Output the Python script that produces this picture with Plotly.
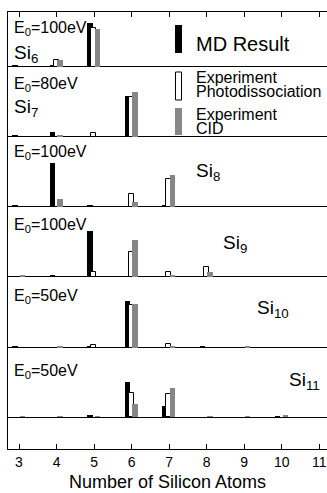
import plotly.graph_objects as go
from plotly.subplots import make_subplots

# ---------------- data (relative fragment intensities, arb. units) ----------------
atoms = [3, 4, 5, 6, 7, 8, 9, 10, 11]
tick_labels = ["3", "4", "5", "6", "7", "8", "9", "10", "11"]
clusters = ["Si<sub>6</sub>", "Si<sub>7</sub>", "Si<sub>8</sub>",
            "Si<sub>9</sub>", "Si<sub>10</sub>", "Si<sub>11</sub>"]
energies = ["E<sub>0</sub>=100eV", "E<sub>0</sub>=80eV", "E<sub>0</sub>=100eV",
            "E<sub>0</sub>=100eV", "E<sub>0</sub>=50eV", "E<sub>0</sub>=50eV"]

#              3     4     5     6     7     8     9     10    11
md_si6    = [1,    2,    44,   None, None, None, None, None, None]
photo_si6 = [None, 7,    39,   None, None, None, None, None, None]
cid_si6   = [None, 7,    38,   None, None, None, None, None, None]

md_si7    = [1,    5,    None, 41,   None, None, None, None, None]
photo_si7 = [None, None, 4,    40,   None, None, None, None, None]
cid_si7   = [None, 1.5,  None, 45,   None, None, None, None, None]

md_si8    = [1,    44,   1.5,  None, 1,    None, None, None, None]
photo_si8 = [None, None, None, 13,   28,   None, None, None, None]
cid_si8   = [None, 8,    None, 5,    32,   None, None, None, None]

md_si9    = [None, 2,    46,   None, None, None, None, None, None]
photo_si9 = [None, None, 5,    25,   5,    10,   None, None, None]
cid_si9   = [1,    None, None, 37,   2,    5,    None, None, None]

md_si10    = [1,    None, 1,    47,   None, 1,    None, None, None]
photo_si10 = [None, None, 3,    43,   4,    None, None, None, None]
cid_si10   = [None, 1,    None, 44,   2,    None, 1,    None, None]

md_si11    = [None, None, 1.5,  35,   11,   None, None, 1,    None]
photo_si11 = [None, None, None, 24,   23,   None, None, None, None]
cid_si11   = [1,    1,    1,    13,   29,   1,    1,    2.5,  None]

md_all = [md_si6, md_si7, md_si8, md_si9, md_si10, md_si11]
photo_all = [photo_si6, photo_si7, photo_si8, photo_si9, photo_si10, photo_si11]
cid_all = [cid_si6, cid_si7, cid_si8, cid_si9, cid_si10, cid_si11]

# ---------------- layout helpers ----------------
W, H = 327, 493
L, R, T, B = 8, 0, 12, 44
PW, PH = W - L - R, H - T - B
def px(X):
    return (X - L) / PW
def py(Y):
    return (H - B - Y) / PH

row_px = [55, 70, 70, 70, 71, 101]
y_ranges = [[-0.5, 54.5], [-0.5, 69.5], [-0.5, 69.5], [-0.5, 69.5], [-0.5, 70.5], [-32, 69]]

FONT = "Liberation Sans, Arial, Helvetica, sans-serif"
GRAY = "#878787"

fig = make_subplots(rows=6, cols=1, shared_xaxes=True, vertical_spacing=0,
                    row_heights=[h / sum(row_px) for h in row_px])

BW = 0.14
for i in range(6):
    r = i + 1
    fig.add_trace(go.Bar(x=atoms, y=md_all[i], width=BW, offset=-0.18,
                         marker=dict(color="black", line=dict(width=0)),
                         name="MD Result", showlegend=False), row=r, col=1)
    fig.add_trace(go.Bar(x=atoms, y=photo_all[i], width=BW, offset=-0.08,
                         marker=dict(color="white", line=dict(color="black", width=1)),
                         name="Experiment Photodissociation", showlegend=False), row=r, col=1)
    fig.add_trace(go.Bar(x=atoms, y=cid_all[i], width=BW, offset=0.02,
                         marker=dict(color=GRAY, line=dict(width=0)),
                         name="Experiment CID", showlegend=False), row=r, col=1)
    fig.update_yaxes(range=y_ranges[i], showline=True, linecolor="black", linewidth=1,
                     showticklabels=False, ticks="", showgrid=False,
                     zeroline=True, zerolinecolor="black", zerolinewidth=1,
                     row=r, col=1)
    fig.update_xaxes(range=[2.707, 11.205], showgrid=False, zeroline=False,
                     showline=False, ticks="", showticklabels=False, row=r, col=1)

# top frame with ticks
fig.update_xaxes(side="top", showline=True, linecolor="black", linewidth=1,
                 ticks="inside", ticklen=5, tickcolor="black",
                 tickvals=atoms, showticklabels=False, row=1, col=1)
# bottom axis
fig.update_xaxes(showline=True, linecolor="black", linewidth=1,
                 ticks="inside", ticklen=5, tickcolor="black",
                 tickvals=atoms, ticktext=tick_labels, showticklabels=True,
                 tickfont=dict(size=14, color="black", family=FONT),
                 ticklabelstandoff=0, row=6, col=1)

ann = []
e_y = [29, 84, 152, 225, 296, 371]
for i in range(6):
    ann.append(dict(text=energies[i], x=px(12), y=py(e_y[i]), xref="paper", yref="paper",
                    xanchor="left", yanchor="middle", showarrow=False,
                    font=dict(size=16, color="black", family=FONT)))
si_pos = [(12, 54), (12, 108), (194, 172), (221, 244), (255, 309), (287, 381)]
for i in range(6):
    X, Y = si_pos[i]
    ann.append(dict(text=clusters[i], x=px(X), y=py(Y), xref="paper", yref="paper",
                    xanchor="left", yanchor="middle", showarrow=False,
                    font=dict(size=19, color="black", family=FONT)))

# legend
legend_text = [("MD Result", 44, 20), ("Experiment", 78, 16), ("Photodissociation", 92, 16),
               ("Experiment", 114, 16), ("CID", 128, 16)]
for txt, Y, s in legend_text:
    ann.append(dict(text=txt, x=px(194), y=py(Y), xref="paper", yref="paper",
                    xanchor="left", yanchor="middle", showarrow=False,
                    font=dict(size=s, color="black", family=FONT)))

ann.append(dict(text="Number of Silicon Atoms", x=px(168), y=py(482), xref="paper", yref="paper",
                xanchor="center", yanchor="middle", showarrow=False,
                font=dict(size=18, color="black", family=FONT)))

shapes = [
    dict(type="rect", xref="paper", yref="paper", x0=px(175), x1=px(182), y0=py(53), y1=py(25),
         fillcolor="black", line=dict(width=0)),
    dict(type="rect", xref="paper", yref="paper", x0=px(175.5), x1=px(181.5), y0=py(100), y1=py(72),
         fillcolor="white", line=dict(color="black", width=1)),
    dict(type="rect", xref="paper", yref="paper", x0=px(175), x1=px(182), y0=py(135), y1=py(108),
         fillcolor=GRAY, line=dict(width=0)),
]

fig.update_layout(width=W, height=H, margin=dict(l=L, r=R, t=T, b=B),
                  barmode="overlay", bargap=0,
                  paper_bgcolor="white", plot_bgcolor="white",
                  font=dict(family=FONT, color="black"),
                  annotations=ann, shapes=shapes, showlegend=False)

fig.write_html("out.html", config={"displayModeBar": False},
               post_script="document.body.style.margin='0';document.body.style.overflow='hidden';")
